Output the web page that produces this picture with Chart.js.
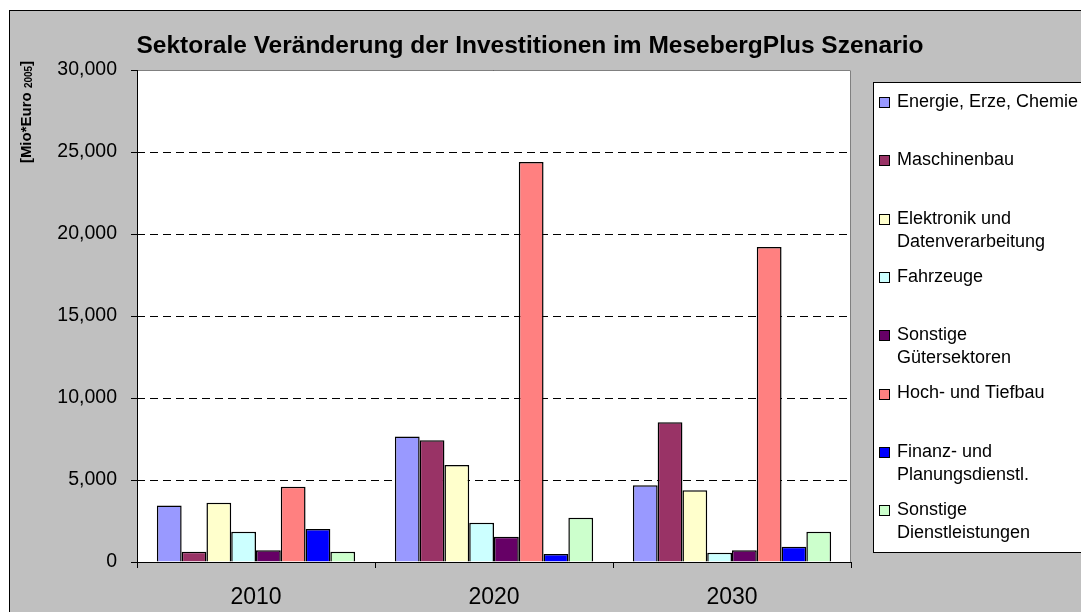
<!DOCTYPE html>
<html>
<head>
<meta charset="utf-8">
<script src="https://cdn.jsdelivr.net/npm/chart.js@4/dist/chart.umd.min.js"></script>
<style>
  html, body { margin: 0; padding: 0; background: #fff; }
  #wrap { position: relative; width: 1081px; height: 612px; }
</style>
</head>
<body>
<div id="wrap"><canvas id="chart" width="1081" height="612"></canvas></div>
<script>
// --- data ---
const categories = ['2010', '2020', '2030'];
const seriesNames = [
  'Energie, Erze, Chemie',
  'Maschinenbau',
  'Elektronik und Datenverarbeitung',
  'Fahrzeuge',
  'Sonstige Gütersektoren',
  'Hoch- und Tiefbau',
  'Finanz- und Planungsdienstl.',
  'Sonstige Dienstleistungen'
];
// legend text as it is broken in the original
const legendLines = [
  ['Energie, Erze, Chemie'],
  ['Maschinenbau'],
  ['Elektronik und', 'Datenverarbeitung'],
  ['Fahrzeuge'],
  ['Sonstige', 'Gütersektoren'],
  ['Hoch- und Tiefbau'],
  ['Finanz- und', 'Planungsdienstl.'],
  ['Sonstige', 'Dienstleistungen']
];
const energie      = [3450, 7660, 4680];
const maschinenbau = [630, 7420, 8520];
const elektronik   = [3620, 5910, 4370];
const fahrzeuge    = [1850, 2400, 570];
const sonstGueter  = [710, 1540, 710];
const hochTiefbau  = [4590, 24390, 19200];
const finanz       = [2010, 490, 930];
const sonstDienst  = [630, 2700, 1850];
const yTicks = [0, 5000, 10000, 15000, 20000, 25000, 30000];

const seriesValues = [energie, maschinenbau, elektronik, fahrzeuge, sonstGueter, hochTiefbau, finanz, sonstDienst];
const colors = ['#9999FF', '#993366', '#FFFFCC', '#CCFFFF', '#660066', '#FF8080', '#0000FF', '#CCFFCC'];

const FONT = 'Arial, "Liberation Sans", sans-serif';

// background, outer frame, plot area fill
const backgroundPlugin = {
  id: 'background',
  beforeDraw(chart) {
    const { ctx, chartArea: a } = chart;
    ctx.save();
    ctx.fillStyle = '#fff';
    ctx.fillRect(0, 0, chart.width, chart.height);
    ctx.fillStyle = '#C0C0C0';
    ctx.fillRect(9, 10, chart.width, chart.height);
    ctx.strokeStyle = '#000';
    ctx.lineWidth = 1;
    ctx.strokeRect(9.5, 10.5, chart.width + 10, chart.height + 10);
    ctx.fillStyle = '#fff';
    ctx.fillRect(a.left, a.top, a.right - a.left, a.bottom - a.top);
    ctx.restore();
  }
};

// axis lines, plot border, title, y axis title, legend
const decorPlugin = {
  id: 'decor',
  afterDraw(chart) {
    const { ctx, chartArea: a } = chart;
    ctx.save();
    // plot area border (top/right grey)
    ctx.strokeStyle = '#808080';
    ctx.lineWidth = 1;
    ctx.beginPath();
    ctx.moveTo(a.left, a.top + 0.5);
    ctx.lineTo(a.right - 0.5, a.top + 0.5);
    ctx.lineTo(a.right - 0.5, a.bottom);
    ctx.stroke();
    // axes
    ctx.strokeStyle = '#000';
    ctx.beginPath();
    ctx.moveTo(a.left + 0.5, a.top);
    ctx.lineTo(a.left + 0.5, a.bottom + 0.5);
    ctx.lineTo(a.right, a.bottom + 0.5);
    ctx.stroke();

    // title
    ctx.fillStyle = '#000';
    ctx.font = 'bold 24.5px ' + FONT;
    ctx.textAlign = 'center';
    ctx.textBaseline = 'middle';
    ctx.fillText('Sektorale Veränderung der Investitionen im MesebergPlus Szenario', 530, 46);

    // y axis title, rotated, with subscript
    ctx.save();
    ctx.translate(31, 112);
    ctx.rotate(-Math.PI / 2);
    ctx.textAlign = 'left';
    ctx.textBaseline = 'alphabetic';
    const big = 'bold 15px ' + FONT, small = 'bold 10px ' + FONT;
    ctx.font = big;
    const w1 = ctx.measureText('[Mio*Euro ').width;
    const w3 = ctx.measureText(']').width;
    ctx.font = small;
    const w2 = ctx.measureText('2005').width;
    let x = -(w1 + w2 + w3) / 2;
    ctx.font = big;
    ctx.fillText('[Mio*Euro ', x, 0);
    x += w1;
    ctx.font = small;
    ctx.fillText('2005', x, 1);
    x += w2;
    ctx.font = big;
    ctx.fillText(']', x, 0);
    ctx.restore();

    // legend box
    ctx.fillStyle = '#fff';
    ctx.fillRect(873, 82, 220, 470);
    ctx.strokeStyle = '#000';
    ctx.strokeRect(873.5, 82.5, 220, 470);
    ctx.font = '18px ' + FONT;
    ctx.textAlign = 'left';
    ctx.textBaseline = 'middle';
    legendLines.forEach((lines, i) => {
      const y = 102 + i * 58.3;
      ctx.fillStyle = colors[i];
      ctx.fillRect(879.5, Math.round(y - 5) + 0.5, 10, 10);
      ctx.strokeStyle = '#000';
      ctx.strokeRect(879.5, Math.round(y - 5) + 0.5, 10, 10);
      ctx.fillStyle = '#000';
      lines.forEach((t, j) => ctx.fillText(t, 897, y + j * 23));
    });
    ctx.restore();
  }
};

new Chart(document.getElementById('chart'), {
  type: 'bar',
  data: {
    labels: categories,
    datasets: seriesNames.map((name, i) => ({
      label: name,
      data: seriesValues[i],
      backgroundColor: colors[i],
      borderColor: '#000',
      borderWidth: 1.5,
      borderSkipped: 'bottom',
      categoryPercentage: 0.833,
      barPercentage: 1
    }))
  },
  options: {
    responsive: false,
    animation: false,
    layout: { padding: { left: 0, top: 70, right: 230, bottom: 0 } },
    plugins: {
      legend: { display: false },
      title: { display: false },
      tooltip: { enabled: false }
    },
    scales: {
      x: {
        afterFit(scale) { scale.height = 50; },
        grid: {
          offset: true,
          drawOnChartArea: false,
          drawTicks: true,
          tickLength: 6,
          color: '#000'
        },
        border: { display: false },
        ticks: {
          color: '#000',
          font: { family: FONT, size: 23 },
          padding: 16,
          maxRotation: 0
        }
      },
      y: {
        min: 0,
        max: 30000,
        afterFit(scale) { scale.width = 137; },
        afterBuildTicks(scale) { scale.ticks = yTicks.map(v => ({ value: v })); },
        grid: {
          color: '#000',
          lineWidth: 1,
          tickLength: 6,
          tickColor: '#000',
          tickBorderDash: []
        },
        border: { display: false, dash: [8, 5] },
        ticks: {
          color: '#000',
          font: { family: FONT, size: 19.5 },
          padding: 14,
          callback: v => v.toLocaleString('en-US')
        }
      }
    }
  },
  plugins: [backgroundPlugin, decorPlugin]
});
</script>
</body>
</html>
